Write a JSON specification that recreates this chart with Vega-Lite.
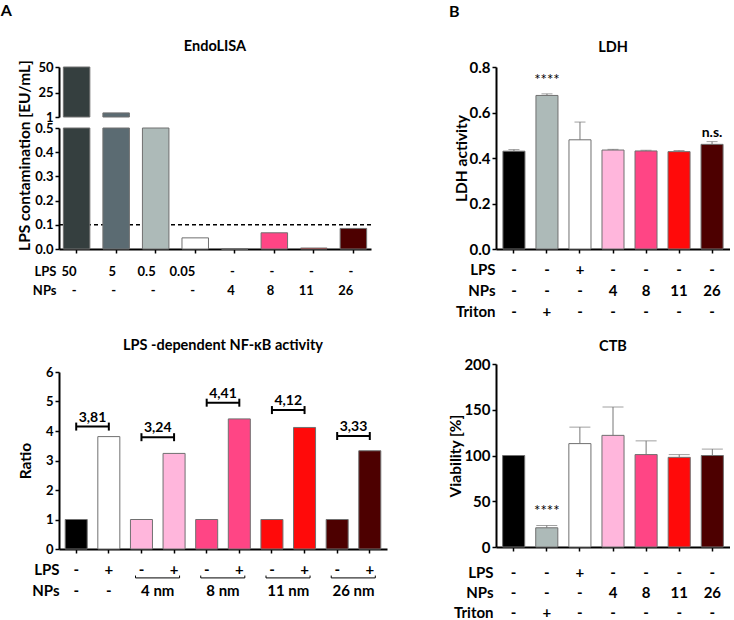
{
  "$schema": "https://vega.github.io/schema/vega-lite/v6.json",
  "background": "white",
  "padding": {"left": 0, "top": 3, "right": 0, "bottom": 0},
  "config": {
    "font": "Lato",
    "view": {"stroke": null},
    "axis": {
      "labelFont": "Lato", "labelFontWeight": "bold", "labelFontSize": 15, "labelColor": "black",
      "titleFont": "Lato", "titleFontWeight": "bold", "titleFontSize": 15.5, "titleColor": "black",
      "domainColor": "black", "domainWidth": 2, "tickColor": "black", "tickWidth": 1.5, "tickSize": 4,
      "grid": false, "labelFlush": false, "labelOverlap": false, "labelPadding": 2
    },
    "title": {"font": "Lato", "fontWeight": "bold", "fontSize": 14.5, "color": "black"}
  },
  "datasets": {
    "endo": [
      {"cond": "50|-", "v": 50},
      {"cond": "5|-", "v": 5},
      {"cond": "0.5|-", "v": 0.5},
      {"cond": "0.05|-", "v": 0.046},
      {"cond": "-|4", "v": 0},
      {"cond": "-|8", "v": 0.067},
      {"cond": "-|11", "v": 0.004},
      {"cond": "-|26", "v": 0.085}
    ],
    "nfkb": [
      {"bar": "c-", "v": 1},
      {"bar": "c+", "v": 3.81},
      {"bar": "4-", "v": 1},
      {"bar": "4+", "v": 3.24},
      {"bar": "8-", "v": 1},
      {"bar": "8+", "v": 4.41},
      {"bar": "11-", "v": 1},
      {"bar": "11+", "v": 4.12},
      {"bar": "26-", "v": 1},
      {"bar": "26+", "v": 3.33}
    ],
    "brackets": [
      {"from": "c-", "to": "c+", "y": 4.15, "label": "3,81"},
      {"from": "4-", "to": "4+", "y": 3.79, "label": "3,24"},
      {"from": "8-", "to": "8+", "y": 4.96, "label": "4,41"},
      {"from": "11-", "to": "11+", "y": 4.71, "label": "4,12"},
      {"from": "26-", "to": "26+", "y": 3.83, "label": "3,33"}
    ],
    "npctrl": [
      {"bar": "c-", "t": "-"},
      {"bar": "c+", "t": "-"}
    ],
    "groups": [
      {"from": "4-", "to": "4+", "t": "4 nm"},
      {"from": "8-", "to": "8+", "t": "8 nm"},
      {"from": "11-", "to": "11+", "t": "11 nm"},
      {"from": "26-", "to": "26+", "t": "26 nm"}
    ],
    "ldh": [
      {"cond": "-|-|-", "v": 0.43, "hi": 0.437},
      {"cond": "-|-|+", "v": 0.675, "hi": 0.682},
      {"cond": "+|-|-", "v": 0.48, "hi": 0.558},
      {"cond": "-|4|-", "v": 0.435, "hi": 0.438},
      {"cond": "-|8|-", "v": 0.431, "hi": 0.434},
      {"cond": "-|11|-", "v": 0.428, "hi": 0.433},
      {"cond": "-|26|-", "v": 0.46, "hi": 0.472}
    ],
    "ldhstar": [{"cond": "-|-|+", "y": 0.745, "t": "****"}],
    "ldhns": [{"cond": "-|26|-", "y": 0.51, "t": "n.s."}],
    "ctb": [
      {"cond": "-|-|-", "v": 100, "hi": null},
      {"cond": "-|-|+", "v": 21, "hi": 23.5},
      {"cond": "+|-|-", "v": 113, "hi": 131},
      {"cond": "-|4|-", "v": 122, "hi": 153},
      {"cond": "-|8|-", "v": 101, "hi": 116},
      {"cond": "-|11|-", "v": 98, "hi": 101},
      {"cond": "-|26|-", "v": 100, "hi": 107}
    ],
    "ctbstar": [{"cond": "-|-|+", "y": 39, "t": "****"}]
  },
  "resolve": {"scale": {"color": "independent"}},
  "spacing": 61,
  "hconcat": [
    {
      "title": {"text": "A", "anchor": "start", "fontSize": 16, "dx": -17, "offset": 20},
      "bounds": "flush",
      "spacing": 123,
      "resolve": {"scale": {"color": "independent"}},
      "vconcat": [
        {
          "width": 312, "height": 182,
          "title": {"text": "EndoLISA", "frame": "group", "offset": 5},
          "resolve": {"scale": {"y": "independent"}, "axis": {"y": "independent"}},
          "layer": [
            {
              "data": {"name": "endo"},
              "transform": [{"filter": "datum.v > 1"}],
              "mark": {"type": "bar", "stroke": "#707070", "strokeWidth": 1},
              "encoding": {
                "x": {"field": "cond", "type": "nominal", "sort": null,
                  "scale": {"domain": ["50|-", "5|-", "0.5|-", "0.05|-", "-|4", "-|8", "-|11", "-|26"], "paddingInner": 0.33, "paddingOuter": 0.11}},
                "y": {"field": "v", "type": "quantitative",
                  "scale": {"domain": [1, 50], "range": [50, 0], "clamp": true, "zero": false, "nice": false},
                  "axis": {"orient": "left", "values": [1, 25, 50], "tickCount": 20, "format": "d", "title": null, "labelOverlap": false, "labelFontSize": 13}},
                "y2": {"datum": 1},
                "color": {"field": "cond", "type": "nominal",
                  "scale": {"domain": ["50|-", "5|-", "0.5|-", "0.05|-", "-|4", "-|8", "-|11", "-|26"],
                    "range": ["#353f3f", "#5b6b72", "#adbab8", "#ffffff", "#ffb6dc", "#ff4585", "#ff0a0a", "#4d0000"]},
                  "legend": null}
              }
            },
            {
              "layer": [
                {
                  "data": {"values": [{}]},
                  "mark": {"type": "rule", "strokeDash": [4, 3], "strokeWidth": 1.5, "color": "black"},
                  "encoding": {"y": {"datum": 0.1, "type": "quantitative"}}
                },
                {
                  "data": {"name": "endo"},
                  "mark": {"type": "bar", "stroke": "#707070", "strokeWidth": 1},
                  "encoding": {
                    "x": {"field": "cond", "type": "nominal", "sort": null,
                      "scale": {"domain": ["50|-", "5|-", "0.5|-", "0.05|-", "-|4", "-|8", "-|11", "-|26"], "paddingInner": 0.33, "paddingOuter": 0.11},
                      "axis": {"labelExpr": "split(datum.value, '|')", "labelAngle": 0, "labelBaseline": "top", "labelLineHeight": 19, "labelPadding": 12, "labelFontSize": 13,
                        "title": ["LPS", "NPs"], "titleAlign": "right", "titleX": -3, "titleY": 16, "titleBaseline": "top", "titleLineHeight": 19, "titleFontSize": 13}},
                    "y": {"field": "v", "type": "quantitative",
                      "scale": {"domain": [0, 0.5], "range": [182, 61], "clamp": true, "nice": false},
                      "axis": {"orient": "left", "values": [0, 0.1, 0.2, 0.3, 0.4, 0.5], "tickCount": 20, "format": ".1f", "title": "LPS contamination [EU/mL]", "titleY": 88, "titlePadding": 2, "labelOverlap": false, "labelFontSize": 13}},
                    "color": {"field": "cond", "type": "nominal",
                      "scale": {"domain": ["50|-", "5|-", "0.5|-", "0.05|-", "-|4", "-|8", "-|11", "-|26"],
                        "range": ["#353f3f", "#5b6b72", "#adbab8", "#ffffff", "#ffb6dc", "#ff4585", "#ff0a0a", "#4d0000"]},
                      "legend": null}
                  }
                }
              ]
            }
          ]
        },
        {
          "width": 328, "height": 177,
          "title": {"text": "LPS -dependent NF-κB activity", "frame": "group", "offset": 13},
          "layer": [
            {
              "data": {"name": "nfkb"},
              "mark": {"type": "bar", "stroke": "#707070", "strokeWidth": 1},
              "encoding": {
                "x": {"field": "bar", "type": "nominal", "sort": null,
                  "scale": {"domain": ["c-", "c+", "4-", "4+", "8-", "8+", "11-", "11+", "26-", "26+"], "paddingInner": 0.325, "paddingOuter": 0.19},
                  "axis": {"labelExpr": "substring(datum.value, length(datum.value) - 1)", "labelAngle": 0, "labelBaseline": "top", "labelPadding": 9,
                    "title": ["LPS", "NPs"], "titleAlign": "right", "titleX": 0, "titleY": 13, "titleBaseline": "top", "titleLineHeight": 21, "titleFontSize": 15}},
                "y": {"field": "v", "type": "quantitative",
                  "scale": {"domain": [0, 6], "nice": false},
                  "axis": {"values": [0, 1, 2, 3, 4, 5, 6], "tickCount": 20, "format": "d", "title": "Ratio", "titlePadding": 12, "labelOverlap": false, "labelFontSize": 13}},
                "color": {"field": "bar", "type": "nominal",
                  "scale": {"domain": ["c-", "c+", "4-", "4+", "8-", "8+", "11-", "11+", "26-", "26+"],
                    "range": ["#000000", "#ffffff", "#ffb6dc", "#ffb6dc", "#ff4585", "#ff4585", "#ff0a0a", "#ff0a0a", "#4d0000", "#4d0000"]},
                  "legend": null}
              }
            },
            {
              "data": {"name": "brackets"},
              "mark": {"type": "rule", "strokeWidth": 2, "color": "black"},
              "encoding": {
                "x": {"field": "from", "type": "nominal", "bandPosition": 0.5},
                "x2": {"field": "to", "bandPosition": 0.5},
                "y": {"field": "y", "type": "quantitative"}
              }
            },
            {
              "data": {"name": "brackets"},
              "mark": {"type": "rule", "strokeWidth": 2, "color": "black", "yOffset": -4, "y2Offset": 4},
              "encoding": {
                "x": {"field": "from", "type": "nominal", "bandPosition": 0.5},
                "y": {"field": "y", "type": "quantitative"},
                "y2": {"field": "y"}
              }
            },
            {
              "data": {"name": "brackets"},
              "mark": {"type": "rule", "strokeWidth": 2, "color": "black", "yOffset": -4, "y2Offset": 4},
              "encoding": {
                "x": {"field": "to", "type": "nominal", "bandPosition": 0.5},
                "y": {"field": "y", "type": "quantitative"},
                "y2": {"field": "y"}
              }
            },
            {
              "data": {"name": "brackets"},
              "mark": {"type": "text", "fontWeight": "bold", "fontSize": 14, "baseline": "alphabetic", "dy": -5, "color": "black", "fill": "black"},
              "encoding": {
                "x": {"field": "from", "type": "nominal", "bandPosition": 1.24},
                "y": {"field": "y", "type": "quantitative"},
                "text": {"field": "label"}
              }
            },
            {
              "data": {"name": "npctrl"},
              "mark": {"type": "text", "fontWeight": "bold", "fontSize": 15, "baseline": "middle", "color": "black", "fill": "black"},
              "encoding": {
                "x": {"field": "bar", "type": "nominal", "bandPosition": 0.5},
                "y": {"datum": -1.42},
                "text": {"field": "t"}
              }
            },
            {
              "data": {"name": "groups"},
              "mark": {"type": "text", "fontWeight": "bold", "fontSize": 15, "baseline": "middle", "color": "black", "fill": "black"},
              "encoding": {
                "x": {"field": "from", "type": "nominal", "bandPosition": 1.24},
                "y": {"datum": -1.42},
                "text": {"field": "t"}
              }
            },
            {
              "data": {"name": "groups"},
              "mark": {"type": "rule", "strokeWidth": 1, "color": "black"},
              "encoding": {
                "x": {"field": "from", "type": "nominal", "bandPosition": 0.23},
                "x2": {"field": "to", "bandPosition": 0.75},
                "y": {"datum": -0.98}
              }
            },
            {
              "data": {"name": "groups"},
              "mark": {"type": "rule", "strokeWidth": 1, "color": "black"},
              "encoding": {
                "x": {"field": "from", "type": "nominal", "bandPosition": 0.23},
                "y": {"datum": -0.98},
                "y2": {"datum": -0.9}
              }
            },
            {
              "data": {"name": "groups"},
              "mark": {"type": "rule", "strokeWidth": 1, "color": "black"},
              "encoding": {
                "x": {"field": "to", "type": "nominal", "bandPosition": 0.75},
                "y": {"datum": -0.98},
                "y2": {"datum": -0.9}
              }
            }
          ]
        }
      ]
    },
    {
      "title": {"text": "B", "anchor": "start", "fontSize": 16, "dx": 0, "offset": 20},
      "bounds": "flush",
      "spacing": 115,
      "resolve": {"scale": {"color": "independent"}},
      "vconcat": [
        {
          "width": 234, "height": 182,
          "title": {"text": "LDH", "frame": "group", "offset": 5},
          "layer": [
            {
              "data": {"name": "ldh"},
              "mark": {"type": "bar", "stroke": "#707070", "strokeWidth": 1},
              "encoding": {
                "x": {"field": "cond", "type": "nominal", "sort": null,
                  "scale": {"domain": ["-|-|-", "-|-|+", "+|-|-", "-|4|-", "-|8|-", "-|11|-", "-|26|-"], "paddingInner": 0.333, "paddingOuter": 0.21},
                  "axis": {"labelExpr": "split(datum.value, '|')", "labelAngle": 0, "labelBaseline": "top", "labelLineHeight": 21, "labelPadding": 9,
                    "title": ["LPS", "NPs", "Triton"], "titleAlign": "right", "titleX": -1, "titleY": 13, "titleBaseline": "top", "titleLineHeight": 21, "titleFontSize": 15}},
                "y": {"field": "v", "type": "quantitative",
                  "scale": {"domain": [0, 0.8], "nice": false},
                  "axis": {"values": [0, 0.2, 0.4, 0.6, 0.8], "tickCount": 20, "format": ".1f", "title": "LDH activity", "titlePadding": 0, "labelOverlap": false}},
                "color": {"field": "cond", "type": "nominal",
                  "scale": {"domain": ["-|-|-", "-|-|+", "+|-|-", "-|4|-", "-|8|-", "-|11|-", "-|26|-"],
                    "range": ["#000000", "#adbab8", "#ffffff", "#ffb6dc", "#ff4585", "#ff0a0a", "#4d0000"]},
                  "legend": null}
              }
            },
            {
              "data": {"name": "ldh"},
              "mark": {"type": "rule", "color": "#777777", "strokeWidth": 1},
              "encoding": {
                "x": {"field": "cond", "type": "nominal"},
                "y": {"field": "v", "type": "quantitative"},
                "y2": {"field": "hi"}
              }
            },
            {
              "data": {"name": "ldh"},
              "mark": {"type": "tick", "color": "#777777", "thickness": 1, "size": 11},
              "encoding": {
                "x": {"field": "cond", "type": "nominal"},
                "y": {"field": "hi", "type": "quantitative"}
              }
            },
            {
              "data": {"name": "ldhstar"},
              "mark": {"type": "text", "fontSize": 15, "baseline": "middle", "color": "black", "fill": "black"},
              "encoding": {
                "x": {"field": "cond", "type": "nominal"},
                "y": {"field": "y", "type": "quantitative"},
                "text": {"field": "t"}
              }
            },
            {
              "data": {"name": "ldhns"},
              "mark": {"type": "text", "fontSize": 14, "fontWeight": "bold", "baseline": "middle", "color": "black", "fill": "black"},
              "encoding": {
                "x": {"field": "cond", "type": "nominal"},
                "y": {"field": "y", "type": "quantitative"},
                "text": {"field": "t"}
              }
            }
          ]
        },
        {
          "width": 234, "height": 183,
          "title": {"text": "CTB", "frame": "group", "offset": 3},
          "layer": [
            {
              "data": {"name": "ctb"},
              "mark": {"type": "bar", "stroke": "#707070", "strokeWidth": 1},
              "encoding": {
                "x": {"field": "cond", "type": "nominal", "sort": null,
                  "scale": {"domain": ["-|-|-", "-|-|+", "+|-|-", "-|4|-", "-|8|-", "-|11|-", "-|26|-"], "paddingInner": 0.333, "paddingOuter": 0.2},
                  "axis": {"labelExpr": "split(datum.value, '|')", "labelAngle": 0, "labelBaseline": "top", "labelLineHeight": 20, "labelPadding": 14,
                    "title": ["LPS", "NPs", "Triton"], "titleAlign": "right", "titleX": -3, "titleY": 18, "titleBaseline": "top", "titleLineHeight": 20, "titleFontSize": 15}},
                "y": {"field": "v", "type": "quantitative",
                  "scale": {"domain": [0, 200], "nice": false},
                  "axis": {"values": [0, 50, 100, 150, 200], "tickCount": 20, "title": "Viability [%]", "titlePadding": 0, "labelOverlap": false}},
                "color": {"field": "cond", "type": "nominal",
                  "scale": {"domain": ["-|-|-", "-|-|+", "+|-|-", "-|4|-", "-|8|-", "-|11|-", "-|26|-"],
                    "range": ["#000000", "#adbab8", "#ffffff", "#ffb6dc", "#ff4585", "#ff0a0a", "#4d0000"]},
                  "legend": null}
              }
            },
            {
              "data": {"name": "ctb"},
              "transform": [{"filter": "isValid(datum.hi)"}],
              "mark": {"type": "rule", "color": "#777777", "strokeWidth": 1},
              "encoding": {
                "x": {"field": "cond", "type": "nominal"},
                "y": {"field": "v", "type": "quantitative"},
                "y2": {"field": "hi"}
              }
            },
            {
              "data": {"name": "ctb"},
              "transform": [{"filter": "isValid(datum.hi)"}],
              "mark": {"type": "tick", "color": "#777777", "thickness": 1, "size": 21},
              "encoding": {
                "x": {"field": "cond", "type": "nominal"},
                "y": {"field": "hi", "type": "quantitative"}
              }
            },
            {
              "data": {"name": "ctbstar"},
              "mark": {"type": "text", "fontSize": 15, "baseline": "middle", "color": "black", "fill": "black"},
              "encoding": {
                "x": {"field": "cond", "type": "nominal"},
                "y": {"field": "y", "type": "quantitative"},
                "text": {"field": "t"}
              }
            }
          ]
        }
      ]
    }
  ]
}
